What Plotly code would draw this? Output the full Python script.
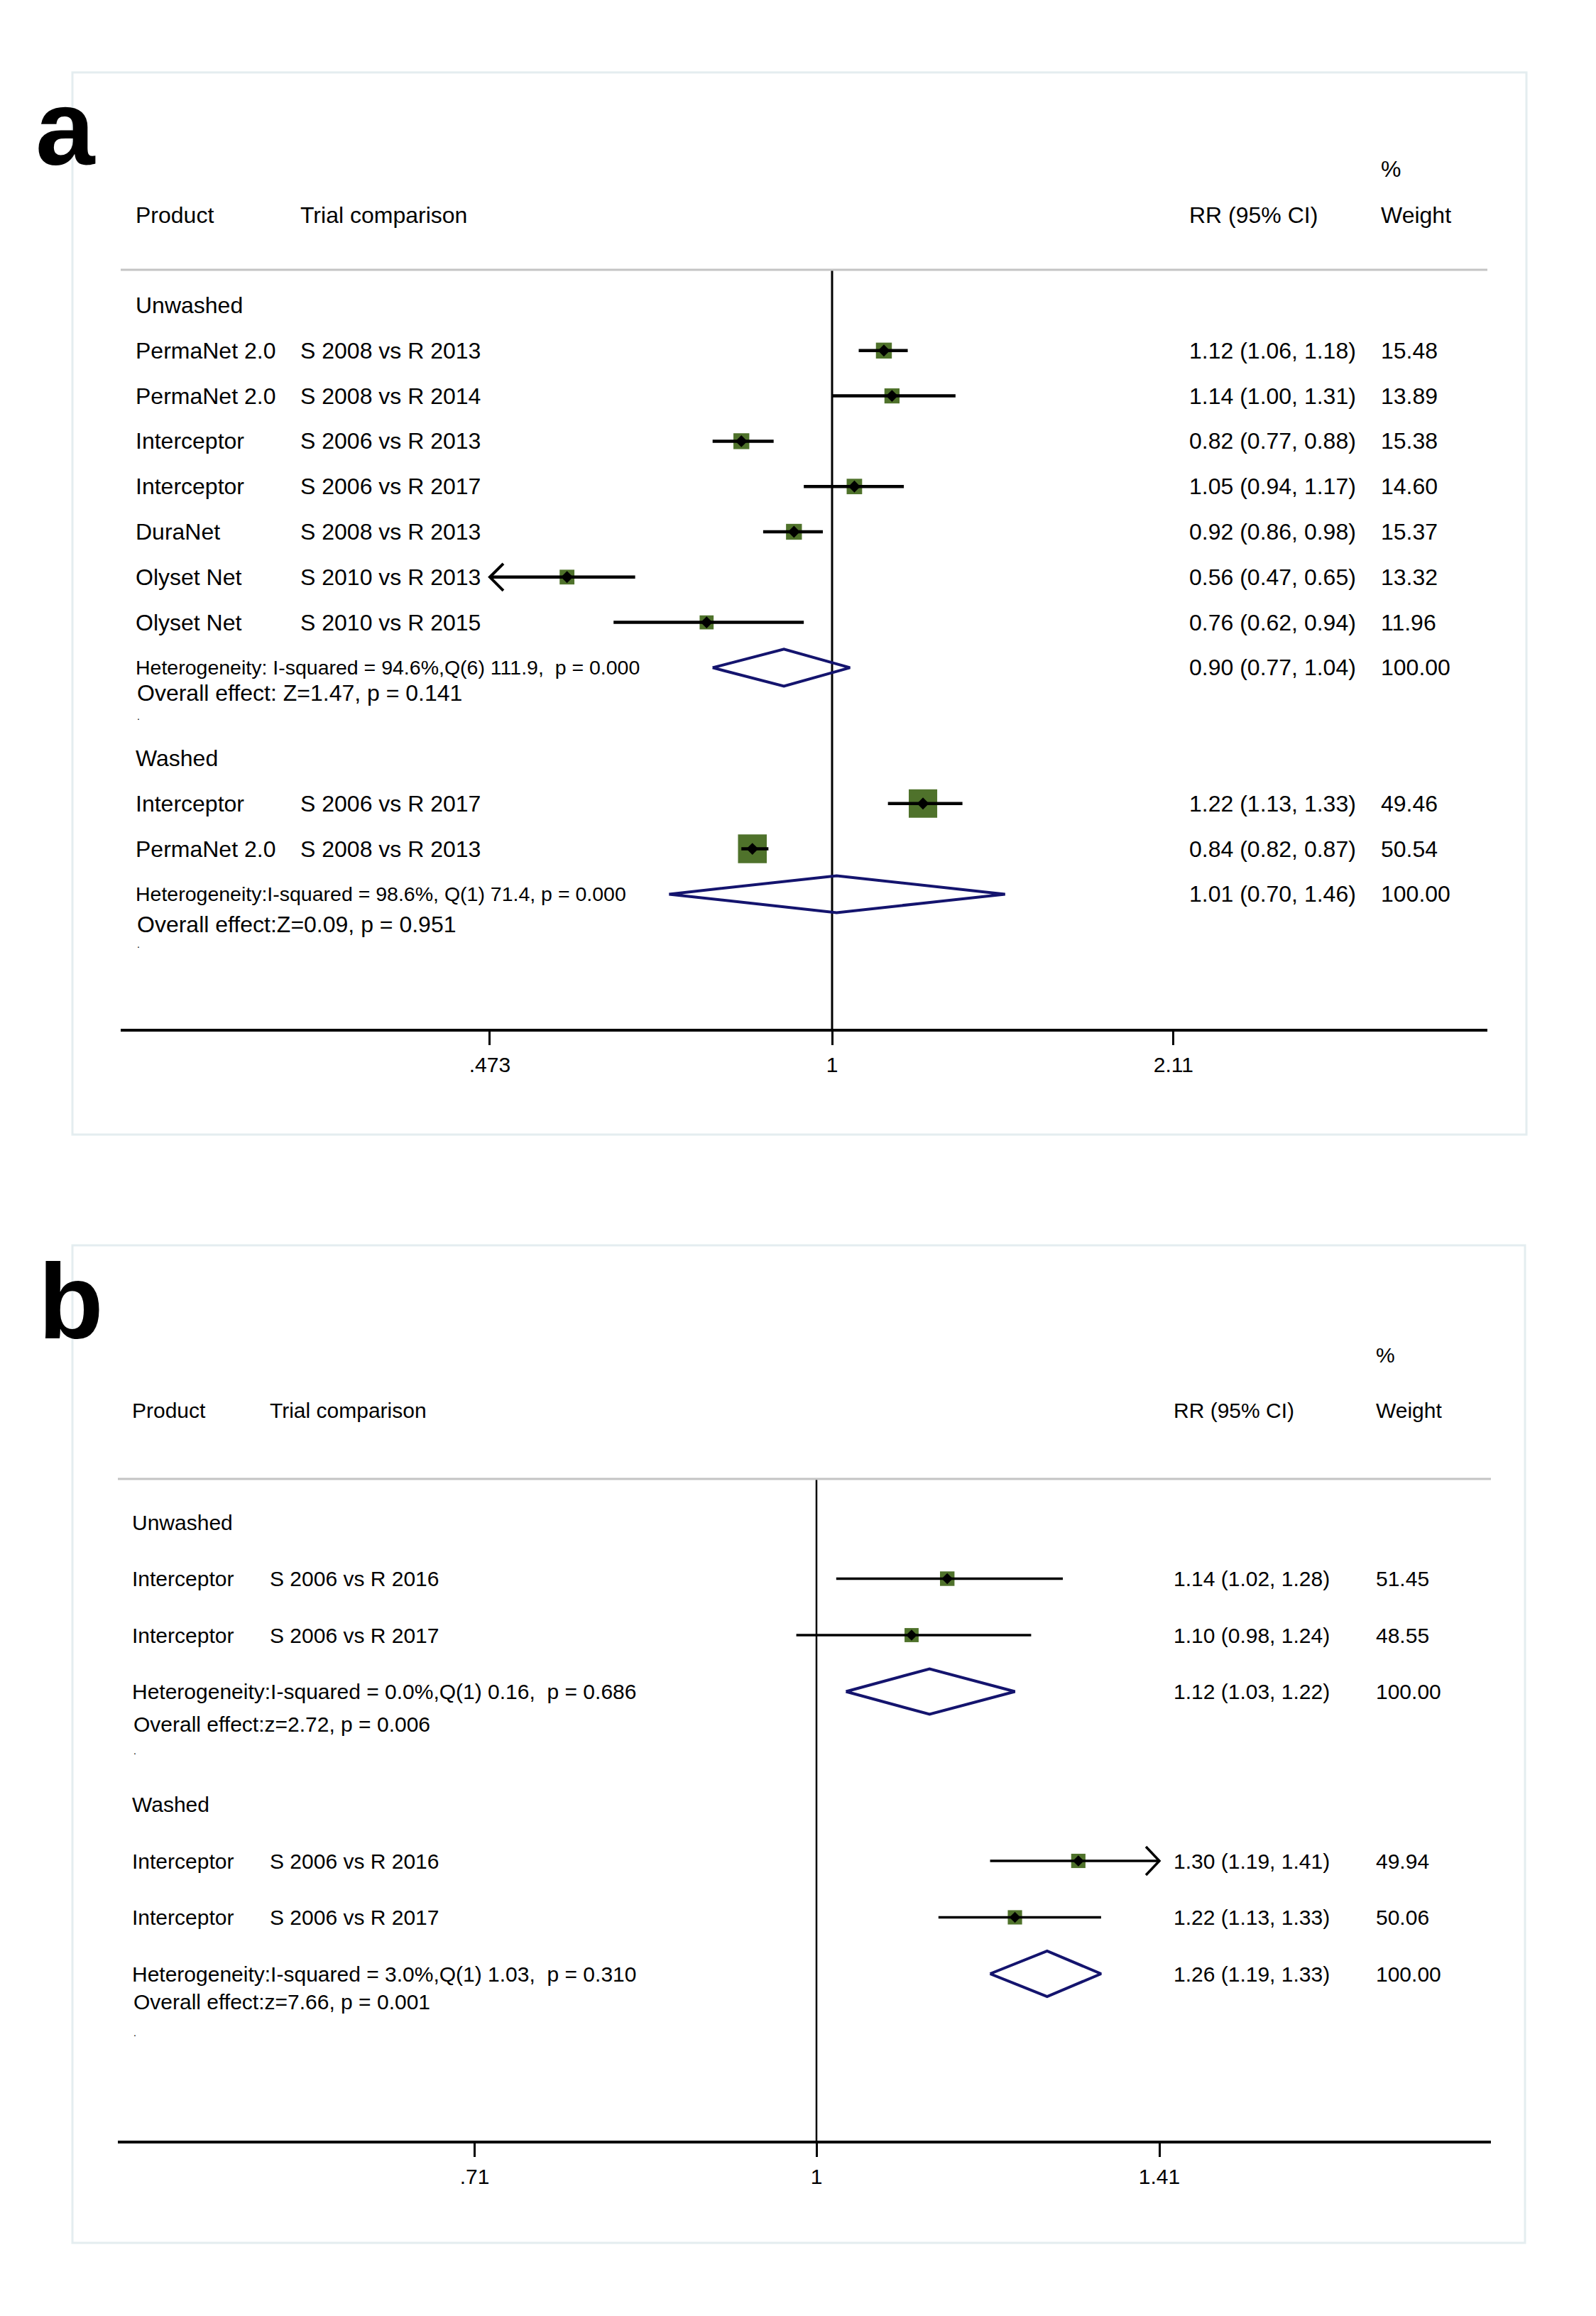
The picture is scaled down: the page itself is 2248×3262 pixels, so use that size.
import numpy as np
import plotly.graph_objects as go

# ---------------- Panel a data ----------------
a_groups = ["Unwashed", "Washed"]
a_group_of = [0, 0, 0, 0, 0, 0, 0, 1, 1]
a_product = ["PermaNet 2.0", "PermaNet 2.0", "Interceptor", "Interceptor", "DuraNet",
             "Olyset Net", "Olyset Net", "Interceptor", "PermaNet 2.0"]
a_comparison = ["S 2008 vs R 2013", "S 2008 vs R 2014", "S 2006 vs R 2013", "S 2006 vs R 2017",
                "S 2008 vs R 2013", "S 2010 vs R 2013", "S 2010 vs R 2015", "S 2006 vs R 2017",
                "S 2008 vs R 2013"]
a_rr = [1.12, 1.14, 0.82, 1.05, 0.92, 0.56, 0.76, 1.22, 0.84]
a_lo = [1.06, 1.00, 0.77, 0.94, 0.86, 0.47, 0.62, 1.13, 0.82]
a_hi = [1.18, 1.31, 0.88, 1.17, 0.98, 0.65, 0.94, 1.33, 0.87]
a_weight = [15.48, 13.89, 15.38, 14.60, 15.37, 13.32, 11.96, 49.46, 50.54]
a_pooled_rr = [0.90, 1.01]
a_pooled_lo = [0.77, 0.70]
a_pooled_hi = [1.04, 1.46]
a_het = ["Heterogeneity: I-squared = 94.6%,Q(6) 111.9,  p = 0.000",
         "Heterogeneity:I-squared = 98.6%, Q(1) 71.4, p = 0.000"]
a_effect = ["Overall effect: Z=1.47, p = 0.141",
            "Overall effect:Z=0.09, p = 0.951"]
a_tickvals = [0.473, 1, 2.11]
a_ticktext = [".473", "1", "2.11"]

# ---------------- Panel b data ----------------
b_groups = ["Unwashed", "Washed"]
b_group_of = [0, 0, 1, 1]
b_product = ["Interceptor", "Interceptor", "Interceptor", "Interceptor"]
b_comparison = ["S 2006 vs R 2016", "S 2006 vs R 2017", "S 2006 vs R 2016", "S 2006 vs R 2017"]
b_rr = [1.14, 1.10, 1.30, 1.22]
b_lo = [1.02, 0.98, 1.19, 1.13]
b_hi = [1.28, 1.24, 1.41, 1.33]
b_weight = [51.45, 48.55, 49.94, 50.06]
b_pooled_rr = [1.12, 1.26]
b_pooled_lo = [1.03, 1.19]
b_pooled_hi = [1.22, 1.33]
b_het = ["Heterogeneity:I-squared = 0.0%,Q(1) 0.16,  p = 0.686",
         "Heterogeneity:I-squared = 3.0%,Q(1) 1.03,  p = 0.310"]
b_effect = ["Overall effect:z=2.72, p = 0.006",
            "Overall effect:z=7.66, p = 0.001"]
b_tickvals = [0.71, 1, 1.41]
b_ticktext = [".71", "1", "1.41"]

W, H = 2248, 3262
FONT = "Liberation Sans, Arial, Helvetica, sans-serif"
GREEN = "#4f722b"
NAVY = "#14146e"
BOX = "#e4edf0"


def px(x):
    return x / W


def py(y):
    return 1 - y / H


fig = go.Figure()
annotations = []
shapes = []


def panel(d, cfg):
    xa, ya = cfg["xaxis"], cfg["yaxis"]
    rowh = cfg["row_h"]
    row0 = cfg["row0"]
    fs = cfg["fs"]
    # assign rows
    rows, group_rows, pooled_rows = [], [], []
    r = 0
    for g in range(len(d["groups"])):
        group_rows.append(r)
        r += 1
        for i, gg in enumerate(d["group_of"]):
            if gg == g:
                rows.append(r)
                r += 1
        pooled_rows.append(r)
        r += 2
    tmin, tmax = min(d["tickvals"]), max(d["tickvals"])
    # CI lines (clipped to the labelled range, with arrows)
    lx, ly, ax_, ay_ = [], [], [], []
    dx = cfg["arrow_dx"] / cfg["px_per_dec"]
    dy = cfg["arrow_dy"] / rowh
    for rr, lo, hi, rw in zip(d["rr"], d["lo"], d["hi"], rows):
        lo_c, hi_c = max(lo, tmin), min(hi, tmax)
        lx += [lo_c, hi_c, None]
        ly += [rw, rw, None]
        if lo <= tmin:
            ax_ += [lo_c * 10 ** dx, lo_c, lo_c * 10 ** dx, None]
            ay_ += [rw - dy, rw, rw + dy, None]
        if hi >= tmax:
            ax_ += [hi_c / 10 ** dx, hi_c, hi_c / 10 ** dx, None]
            ay_ += [rw - dy, rw, rw + dy, None]
    # null line
    y_top = (cfg["y_line"] - row0) / rowh
    y_bot = (cfg["y_axis"] - row0) / rowh
    fig.add_trace(go.Scatter(x=[1, 1], y=[y_top, y_bot], mode="lines",
                             line=dict(color="black", width=cfg["vw"]),
                             xaxis=xa, yaxis=ya, showlegend=False, hoverinfo="skip"))
    # squares
    fig.add_trace(go.Scatter(x=d["rr"], y=rows, mode="markers",
                             marker=dict(symbol="square", color=GREEN, opacity=1,
                                         size=[cfg["sq_k"] * np.sqrt(w) for w in d["weight"]],
                                         line=dict(width=0)),
                             xaxis=xa, yaxis=ya, showlegend=False, hoverinfo="skip"))
    fig.add_trace(go.Scatter(x=lx, y=ly, mode="lines",
                             line=dict(color="black", width=cfg["lw"]),
                             xaxis=xa, yaxis=ya, showlegend=False, hoverinfo="skip"))
    if ax_:
        fig.add_trace(go.Scatter(x=ax_, y=ay_, mode="lines",
                                 line=dict(color="black", width=cfg["aw"]),
                                 xaxis=xa, yaxis=ya, showlegend=False, hoverinfo="skip"))
    fig.add_trace(go.Scatter(x=d["rr"], y=rows, mode="markers",
                             marker=dict(symbol="diamond", color="black", size=cfg["dm"],
                                         opacity=1, line=dict(width=0)),
                             xaxis=xa, yaxis=ya, showlegend=False, hoverinfo="skip"))
    # pooled diamonds
    hh = cfg["dia_h"] / rowh
    dxs, dys = [], []
    for est, lo, hi, rw in zip(d["prr"], d["plo"], d["phi"], pooled_rows):
        dxs += [lo, est, hi, est, lo, None]
        dys += [rw, rw - hh, rw, rw + hh, rw, None]
    fig.add_trace(go.Scatter(x=dxs, y=dys, mode="lines",
                             line=dict(color=NAVY, width=cfg["dw"]),
                             xaxis=xa, yaxis=ya, showlegend=False, hoverinfo="skip"))

    yref = "y" if ya == "y" else "y2"

    def txt(x, y, s, size=fs, ref=yref):
        annotations.append(dict(x=px(x - 4), y=y, xref="paper", yref=ref, text=s,
                                showarrow=False, xanchor="left", yanchor="middle",
                                font=dict(family=FONT, size=size, color="black")))

    # headers (placed in page coordinates above the plotting area)
    hy, py_ = py(cfg["head_y"]), py(cfg["pct_y"])
    txt(cfg["c0"], hy, "Product", ref="paper")
    txt(cfg["c1"], hy, "Trial comparison", ref="paper")
    txt(cfg["c2"], hy, "RR (95% CI)", ref="paper")
    txt(cfg["c3"], py_, "%", ref="paper")
    txt(cfg["c3"], hy, "Weight", ref="paper")
    for g, gr in enumerate(group_rows):
        txt(cfg["c0"], gr, d["groups"][g])
    for i, rw in enumerate(rows):
        txt(cfg["c0"], rw, d["product"][i])
        txt(cfg["c1"], rw, d["comparison"][i])
        txt(cfg["c2"], rw, f"{d['rr'][i]:.2f} ({d['lo'][i]:.2f}, {d['hi'][i]:.2f})")
        txt(cfg["c3"], rw, f"{d['weight'][i]:.2f}")
    for g, pr in enumerate(pooled_rows):
        txt(cfg["c0"], pr, d["het"][g].replace("  ", " \u00a0"), cfg["fs_het"])
        txt(cfg["c0"] + 2, pr + cfg["eff_off"][g], d["effect"][g], cfg["fs_eff"])
        txt(cfg["c0"] + 2, pr + cfg["dot_off"][g], ".", 14)
        txt(cfg["c2"], pr, f"{d['prr'][g]:.2f} ({d['plo'][g]:.2f}, {d['phi'][g]:.2f})")
        txt(cfg["c3"], pr, "100.00")

    # axes
    xr = [(cfg["x_left"] - cfg["x_one"]) / cfg["px_per_dec"],
          (cfg["x_right"] - cfg["x_one"]) / cfg["px_per_dec"]]
    xkey = "xaxis" if xa == "x" else "xaxis2"
    ykey = "yaxis" if ya == "y" else "yaxis2"
    fig.update_layout(**{
        xkey: dict(type="log", range=xr, domain=[px(cfg["x_left"]), px(cfg["x_right"])],
                   anchor=ya, showline=True, linecolor="black", linewidth=cfg["axw"],
                   ticks="outside", ticklen=19, tickwidth=3, tickcolor="black",
                   tickvals=d["tickvals"], ticktext=d["ticktext"], showgrid=False,
                   zeroline=False, ticklabelstandoff=cfg["standoff"],
                   tickfont=dict(family=FONT, size=30, color="black")),
        ykey: dict(range=[y_bot, y_top], domain=[py(cfg["y_axis"]), py(cfg["y_line"])],
                   anchor=xa, visible=False, showgrid=False, zeroline=False),
    })
    # grey header rule
    shapes.append(dict(type="line", xref="paper", yref="paper",
                       x0=px(cfg["x_left"]), x1=px(cfg["x_right"]),
                       y0=py(cfg["y_line"]), y1=py(cfg["y_line"]),
                       line=dict(color="#c4c4c4", width=3)))
    # panel frame
    bx = cfg["box"]
    shapes.append(dict(type="rect", xref="paper", yref="paper",
                       x0=px(bx[0]), x1=px(bx[2]), y0=py(bx[3]), y1=py(bx[1]),
                       line=dict(color=BOX, width=3), fillcolor="rgba(0,0,0,0)", layer="below"))
    annotations.append(dict(x=px(cfg["lab_x"]), y=py(cfg["lab_y"]), xref="paper", yref="paper",
                            text=f"<b>{cfg['label']}</b>", showarrow=False, xanchor="left",
                            yanchor="middle",
                            font=dict(family=FONT, size=150, color="black")))


da = dict(groups=a_groups, group_of=a_group_of, product=a_product, comparison=a_comparison,
          rr=a_rr, lo=a_lo, hi=a_hi, weight=a_weight, prr=a_pooled_rr, plo=a_pooled_lo,
          phi=a_pooled_hi, het=a_het, effect=a_effect, tickvals=a_tickvals, ticktext=a_ticktext)
db = dict(groups=b_groups, group_of=b_group_of, product=b_product, comparison=b_comparison,
          rr=b_rr, lo=b_lo, hi=b_hi, weight=b_weight, prr=b_pooled_rr, plo=b_pooled_lo,
          phi=b_pooled_hi, het=b_het, effect=b_effect, tickvals=b_tickvals, ticktext=b_ticktext)

cfg_a = dict(xaxis="x", yaxis="y", x_left=170, x_right=2095, x_one=1172, px_per_dec=1482.6,
             y_line=380, y_axis=1449, row0=430, row_h=63.8, fs=32, fs_het=28.5, fs_eff=32,
             eff_off=[0.56, 0.67], dot_off=[1.07, 1.1], c0=193, c1=425, c2=1677, c3=1947,
             head_y=303, pct_y=238,
             sq_k=5.7, dm=13, lw=4.5, aw=4, vw=3, dw=4, axw=4, dia_h=26, arrow_dx=19, arrow_dy=19,
             standoff=2, box=(102, 102, 2150, 1598), label="a", lab_x=48, lab_y=180)
cfg_b = dict(xaxis="x2", yaxis="y2", x_left=166, x_right=2100, x_one=1150, px_per_dec=3237,
             y_line=2083, y_axis=3015, row0=2144, row_h=79.5, fs=30, fs_het=30, fs_eff=30,
             eff_off=[0.58, 0.5], dot_off=[1.05, 1.05], c0=188, c1=382, c2=1655, c3=1940,
             head_y=1986, pct_y=1908,
             sq_k=2.85, dm=12, lw=3.5, aw=3.5, vw=2.5, dw=4, axw=4, dia_h=32, arrow_dx=19, arrow_dy=20,
             standoff=2, box=(102, 1754, 2148, 3159), label="b", lab_x=52, lab_y=1833)

panel(da, cfg_a)
panel(db, cfg_b)

fig.update_layout(width=W, height=H, margin=dict(l=0, r=0, t=0, b=0),
                  paper_bgcolor="white", plot_bgcolor="rgba(0,0,0,0)",
                  annotations=annotations, shapes=shapes, showlegend=False,
                  font=dict(family=FONT, color="black"))

fig.write_html("out.html", config={"displayModeBar": False},
               post_script="document.body.style.margin='0px';")
